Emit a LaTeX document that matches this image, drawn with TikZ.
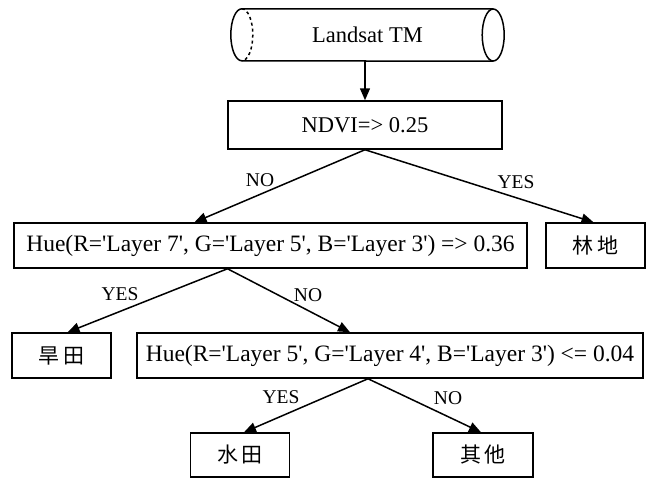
\documentclass[tikz,border=0pt]{standalone}
\usepackage{fontspec}
\setmainfont{Liberation Serif}[Ligatures=TeXOff]
\newfontfamily\cjk{Noto Sans CJK SC}
\usetikzlibrary{arrows.meta}

\begin{document}
\begin{tikzpicture}[%
    x=1pt, y=-1pt,
    box/.style={
        draw,
        rectangle,
        line width=1.5pt,
        minimum height=45pt,
        inner sep=0pt,
        font=\fontsize{22.5}{24}\selectfont
        },
    test/.style={box, font=\fontsize{23.5}{25}\selectfont},
    leaf/.style={%
        box,
        minimum width=99pt,
        font=\fontsize{21}{23}\selectfont\cjk},
    branch/.style={-{Triangle[length=12pt, width=10pt]}, line width=1.5pt},
    answer/.style={font=\fontsize{19.5}{21}\selectfont, inner sep=0pt},
]

\useasboundingbox (0,0) rectangle (647,482);

% source image (cylinder)
\node[minimum width=251pt, minimum height=52pt, inner sep=0pt,
      font=\fontsize{22.5}{24}\selectfont] (src) at (367.5,35) {Landsat TM};
\draw[line width=1.5pt] (src.north east) -- (src.north west)
        arc[start angle=90, end angle=270, x radius=11pt, y radius=26pt]
        -- (src.south east);
\draw[line width=1.5pt] (src.east) ellipse [x radius=11pt, y radius=26pt];
\draw[line width=1.5pt, dashed] (src.north west)
        arc[start angle=90, end angle=-90, x radius=11pt, y radius=26pt];

% decision boxes
\node[box, minimum width=274pt, minimum height=48pt] (ndvi) at (365,125) {NDVI=> 0.25};
\node[test, minimum width=513pt] (hueA) at (270.5,245.5)
    {Hue(R='Layer 7', G='Layer 5', B='Layer 3') => 0.36};
\node[leaf] (forest) at (595.5,245.5) {林\,地};
\node[leaf] (dry) at (61.5,355.5) {旱\,田};
\node[test, minimum width=506pt] (hueB) at (390,355.5)
    {Hue(R='Layer 5', G='Layer 4', B='Layer 3') <= 0.04};
\node[leaf, minimum height=44pt] (paddy) at (240,455) {水\,田};
\node[leaf, minimum height=44pt, minimum width=100pt] (other) at (483,455) {其\,他};

% connectors
\draw[branch] (ndvi.north |- src.south) -- (ndvi.north);
\draw[branch] (ndvi.south) -- ([xshift=-76pt]hueA.north);
\draw[branch] (ndvi.south) -- ([xshift=-2pt]forest.north);
\draw[branch] ([xshift=-43pt]hueA.south) -- ([xshift=6pt]dry.north);
\draw[branch] ([xshift=-43pt]hueA.south) -- ([xshift=-40pt]hueB.north);
\draw[branch] ([xshift=-22pt]hueB.south) -- ([xshift=4pt]paddy.north);
\draw[branch] ([xshift=-22pt]hueB.south) -- ([xshift=-2pt]other.north);

% branch labels
\node[answer] (noA) at (260,180) {NO};
\node[answer] (yesA) at (516,182) {YES};
\node[answer] (yesB) at (120,294) {YES};
\node[answer] (noB) at (308,295) {NO};
\node[answer] (yesC) at (281,397) {YES};
\node[answer] (noC) at (448,398) {NO};
\end{tikzpicture}
\end{document}
